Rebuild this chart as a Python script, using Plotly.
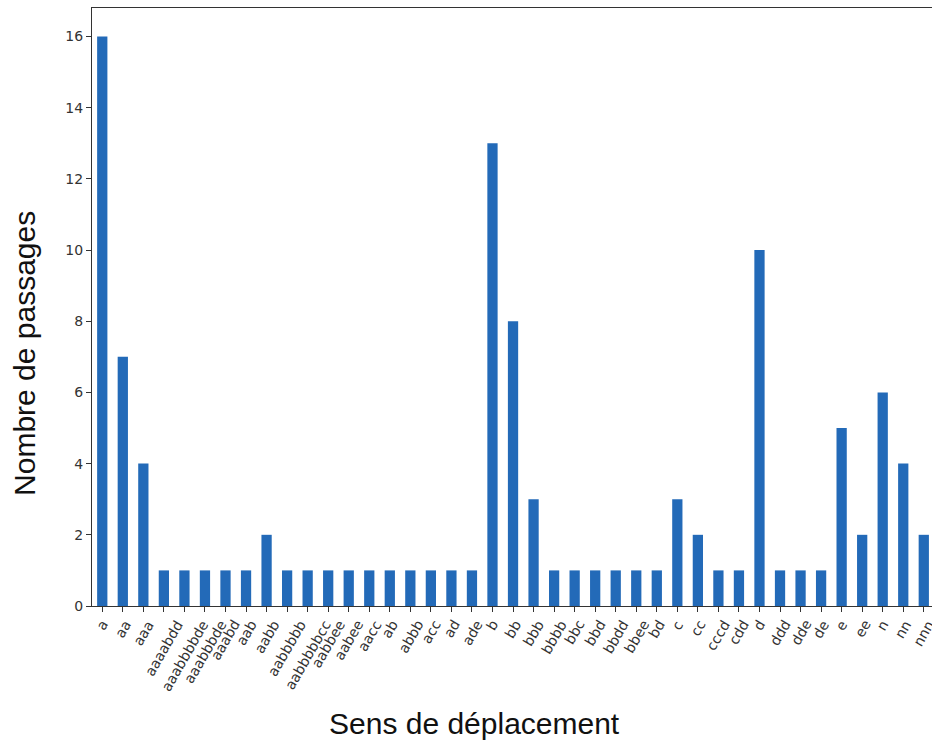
import plotly.graph_objects as go

categories = ["a", "aa", "aaa", "aaaabdd", "aaabbbbde", "aaabbbde", "aaabd", "aab", "aabb",
              "aabbbbb", "aabbbbbcc", "aabbee", "aabee", "aacc", "ab", "abbb", "acc", "ad", "ade",
              "b", "bb", "bbb", "bbbb", "bbc", "bbd", "bbdd", "bbee", "bd", "c", "cc", "cccd", "cdd",
              "d", "ddd", "dde", "de", "e", "ee", "n", "nn", "nnn"]
counts = [16, 7, 4, 1, 1, 1, 1, 1, 2,
          1, 1, 1, 1, 1, 1, 1, 1, 1, 1,
          13, 8, 3, 1, 1, 1, 1, 1, 1, 3, 2, 1, 1,
          10, 1, 1, 1, 5, 2, 6, 4, 2]
y_ticks = [0, 2, 4, 6, 8, 10, 12, 14, 16]

x_idx = list(range(len(categories)))

fig = go.Figure(go.Bar(
    x=x_idx, y=counts, width=0.5,
    marker=dict(color="#236ab8", line=dict(width=0)),
))

# x tick labels drawn as rotated annotations centred under each tick (matplotlib style)
tick_annotations = [
    dict(text=lab, x=i, xref="x", y=0, yref="paper",
         xanchor="center", yanchor="top", yshift=-10, textangle=-60,
         showarrow=False, borderpad=0,
         font=dict(size=14, family="DejaVu Sans", color="#333"))
    for i, lab in zip(x_idx, categories)
]

fig.update_layout(
    width=932, height=744,
    margin=dict(l=92, r=0, t=8, b=138, autoexpand=False),
    plot_bgcolor="white", paper_bgcolor="white",
    showlegend=False,
    font=dict(family="DejaVu Sans", color="#222"),
    annotations=tick_annotations + [
        dict(text="Sens de déplacement", xref="paper", yref="paper",
             x=0.4548, y=-0.1973, xanchor="center", yanchor="middle", showarrow=False,
             font=dict(size=30, family="Liberation Sans", color="#111")),
        dict(text="Nombre de passages", xref="paper", yref="paper",
             x=-0.0798, y=0.4231, xanchor="center", yanchor="middle", showarrow=False,
             textangle=-90,
             font=dict(size=30, family="Liberation Sans", color="#111")),
    ],
)
fig.update_xaxes(
    range=[-0.5, 40.4], automargin=False,
    tickmode="array", tickvals=x_idx, showticklabels=False,
    ticks="outside", ticklen=5, tickcolor="#333",
    showline=True, linecolor="#333", linewidth=1, mirror=True,
    showgrid=False, zeroline=False,
)
fig.update_yaxes(
    range=[0, 16.8], automargin=False,
    tickmode="array", tickvals=y_ticks, ticktext=[str(v) for v in y_ticks],
    tickfont=dict(size=14, family="DejaVu Sans", color="#333"),
    ticks="outside", ticklen=5, tickcolor="#333",
    showline=True, linecolor="#333", linewidth=1,
    showgrid=False, zeroline=False,
)

fig.write_html("out.html", config={"displayModeBar": False},
               post_script="document.body.style.margin='0';document.body.style.overflow='hidden';")
